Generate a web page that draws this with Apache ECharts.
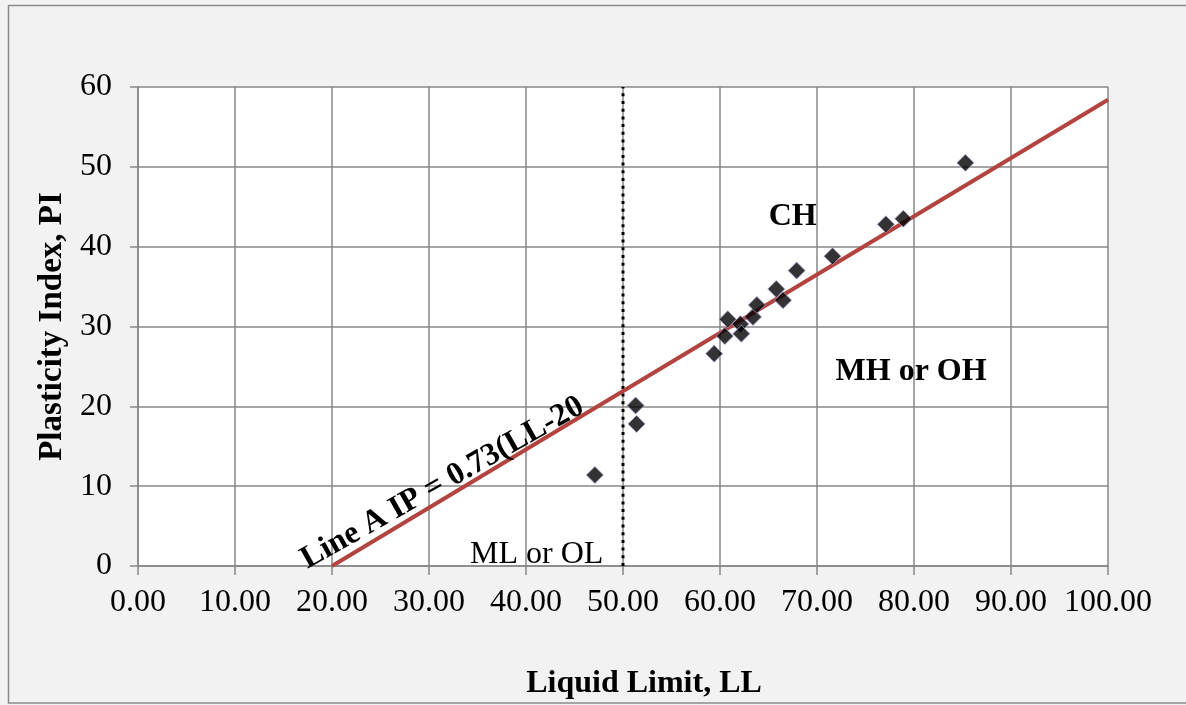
<!DOCTYPE html>
<html>
<head>
<meta charset="utf-8">
<script src="https://cdn.jsdelivr.net/npm/echarts@6/dist/echarts.min.js"></script>
<style>
html,body{margin:0;padding:0;background:#f2f2f2;}
#chart{width:1186px;height:705px;}
</style>
</head>
<body>
<div id="chart"></div>
<script>
// Sample data: Liquid Limit (LL) and Plasticity Index (PI)
const sampleLL = [47.1, 51.3, 51.4, 59.4, 60.8, 60.5, 62.1, 62.2, 63.4, 63.8, 65.8, 66.5, 67.9, 71.6, 77.1, 78.9, 85.3];
const samplePI = [11.4, 20.1, 17.8, 26.6, 30.9, 28.8, 30.3, 29.1, 31.2, 32.7, 34.7, 33.3, 37.0, 38.8, 42.8, 43.5, 50.5];
// A-line: IP = 0.73(LL-20)
const lineA_LL = [20, 100];
const lineA_PI = [0, 58.4];
// LL = 50 divider
const divider_LL = [50, 50];
const divider_PI = [0, 60];
// Axis ticks
const xTicks = [0, 10, 20, 30, 40, 50, 60, 70, 80, 90, 100];
const yTicks = [0, 10, 20, 30, 40, 50, 60];
// Zone annotations [text, LL, PI, bold]
const zoneLabels = [
  ['CH', 67.5, 43.7, true],
  ['MH or OH', 79.7, 24.3, true],
  ['ML or OL', 41.1, 1.4, false]
];
const lineALabel = ['Line A IP = 0.73(LL-20', 31.4, 10.4];

const FONT = 'Liberation Serif, Times New Roman, serif';
const GRID = '#878787';

const chart = echarts.init(document.getElementById('chart'));
const scatterData = sampleLL.map((v, i) => [v, samplePI[i]]);
const lineAData = lineA_LL.map((v, i) => [v, lineA_PI[i]]);
const dividerData = divider_LL.map((v, i) => [v, divider_PI[i]]);

chart.setOption({
  backgroundColor: '#f2f2f2',
  animation: false,
  grid: {left: 138, top: 87, width: 970, height: 481, show: true, backgroundColor: '#ffffff', borderWidth: 0},
  xAxis: {
    type: 'value', min: xTicks[0], max: xTicks[xTicks.length - 1], interval: 10,
    name: 'Liquid Limit, LL', nameLocation: 'middle', nameGap: 102,
    nameTextStyle: {fontFamily: FONT, fontSize: 32, fontWeight: 'bold', color: '#000', padding: [0, 0, 0, 42]},
    axisLine: {show: true, lineStyle: {color: GRID, width: 1.5}},
    axisTick: {show: true, inside: false, length: 9, lineStyle: {color: GRID, width: 1.5}},
    axisLabel: {fontFamily: FONT, fontSize: 32, color: '#000', margin: 21, formatter: v => v.toFixed(2)},
    splitLine: {show: true, lineStyle: {color: GRID, width: 1.5}}
  },
  yAxis: {
    type: 'value', min: yTicks[0], max: yTicks[yTicks.length - 1], interval: 10,
    name: 'Plasticity Index, PI', nameLocation: 'middle', nameGap: 66, nameRotate: 90,
    nameTextStyle: {fontFamily: FONT, fontSize: 33, fontWeight: 'bold', color: '#000'},
    axisLine: {show: true, lineStyle: {color: GRID, width: 1.5}},
    axisTick: {show: true, inside: false, length: 8, lineStyle: {color: GRID, width: 1.5}},
    axisLabel: {fontFamily: FONT, fontSize: 32, color: '#000', margin: 26},
    splitLine: {show: true, lineStyle: {color: GRID, width: 1.5}}
  },
  series: [
    {
      type: 'line', data: dividerData, symbol: 'none', z: 3,
      lineStyle: {color: '#000', width: 3, type: [3, 4.7], cap: 'butt'}
    },
    {
      type: 'line', data: lineAData, symbol: 'none', z: 4,
      lineStyle: {color: '#b2433f', width: 4}
    },
    {
      type: 'scatter', data: scatterData, symbol: 'diamond', symbolSize: 17, z: 5,
      itemStyle: {color: '#000', borderColor: '#a79ccc', borderWidth: 1}
    }
  ]
});

function px(ll, pi) { return chart.convertToPixel({gridIndex: 0}, [ll, pi]); }
const graphics = [{
  type: 'rect', shape: {x: 8.5, y: 5.5, width: 1300, height: 697.5},
  style: {fill: 'none', stroke: '#8a8a8a', lineWidth: 1.5}, z: 100, silent: true
}];
zoneLabels.forEach(([t, ll, pi, bold]) => {
  const p = px(ll, pi);
  graphics.push({type: 'text', x: p[0], y: p[1], z: 50,
    style: {text: t, fontFamily: FONT, fontSize: 32, fontWeight: bold ? 'bold' : 'normal', fill: '#000', align: 'center', verticalAlign: 'middle'}});
});
{
  const p = px(lineALabel[1], lineALabel[2]);
  graphics.push({type: 'text', x: p[0], y: p[1], rotation: 29.5 * Math.PI / 180, z: 50,
    style: {text: lineALabel[0], fontFamily: FONT, fontSize: 32, fontWeight: 'bold', fill: '#000', align: 'center', verticalAlign: 'middle'}});
}
chart.setOption({graphic: graphics});
</script>
</body>
</html>
